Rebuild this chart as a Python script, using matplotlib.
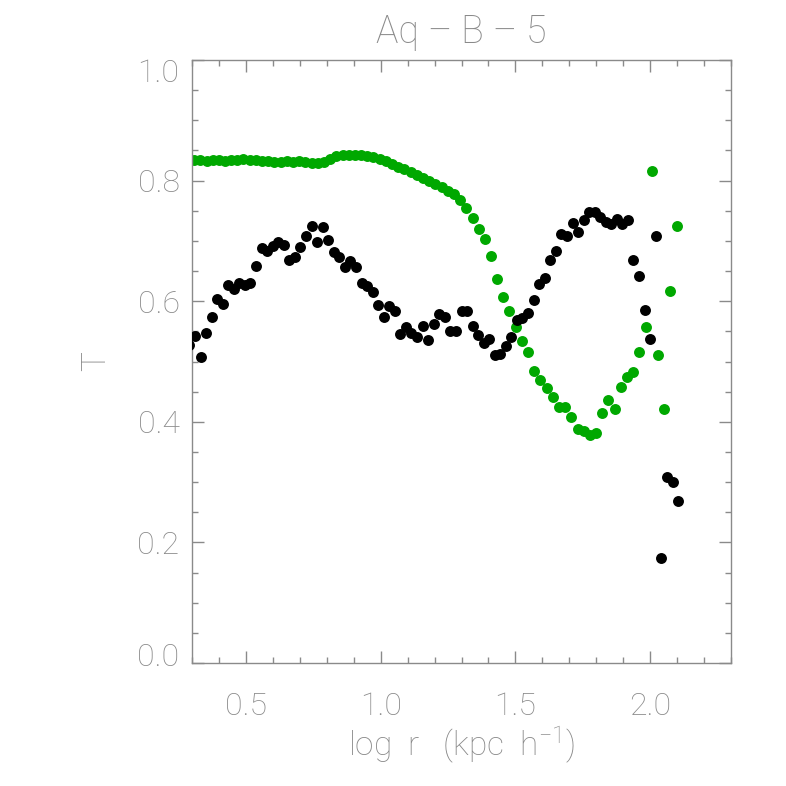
import numpy as np
import matplotlib
matplotlib.use("Agg")
import matplotlib.pyplot as plt
from matplotlib.ticker import MultipleLocator
from matplotlib.transforms import ScaledTranslation

# black series: log r, T
x_black = [0.289, 0.311, 0.332, 0.352, 0.373, 0.393, 0.414, 0.435, 0.455, 0.476,
           0.496, 0.517, 0.538, 0.558, 0.579, 0.599, 0.620, 0.641, 0.661, 0.682,
           0.702, 0.723, 0.744, 0.764, 0.785, 0.805, 0.826, 0.847, 0.867, 0.888,
           0.908, 0.929, 0.950, 0.970, 0.991, 1.011, 1.032, 1.053, 1.073, 1.094,
           1.114, 1.135, 1.156, 1.176, 1.197, 1.217, 1.238, 1.259, 1.279, 1.300,
           1.320, 1.341, 1.362, 1.382, 1.403, 1.423, 1.444, 1.465, 1.485, 1.506,
           1.526, 1.547, 1.568, 1.588, 1.609, 1.629, 1.650, 1.671, 1.691, 1.712,
           1.732, 1.753, 1.774, 1.794, 1.815, 1.835, 1.856, 1.877, 1.897, 1.918,
           1.938, 1.959, 1.980, 2.000, 2.021, 2.041, 2.062, 2.083, 2.103]
t_black = [0.527, 0.543, 0.507, 0.547, 0.573, 0.604, 0.595, 0.627, 0.621, 0.631,
           0.627, 0.631, 0.659, 0.689, 0.684, 0.692, 0.698, 0.694, 0.668, 0.673,
           0.690, 0.708, 0.724, 0.699, 0.723, 0.701, 0.682, 0.673, 0.657, 0.666,
           0.657, 0.631, 0.626, 0.615, 0.594, 0.573, 0.592, 0.583, 0.546, 0.557,
           0.547, 0.541, 0.559, 0.536, 0.562, 0.578, 0.573, 0.551, 0.551, 0.584,
           0.583, 0.559, 0.544, 0.531, 0.537, 0.511, 0.512, 0.526, 0.540, 0.569,
           0.572, 0.581, 0.602, 0.628, 0.638, 0.668, 0.683, 0.711, 0.708, 0.730,
           0.715, 0.735, 0.748, 0.748, 0.740, 0.731, 0.728, 0.736, 0.728, 0.735,
           0.668, 0.642, 0.585, 0.537, 0.708, 0.174, 0.308, 0.300, 0.269]

# green series: log r, T
x_green = [0.308, 0.331, 0.354, 0.377, 0.400, 0.423, 0.446, 0.468, 0.491, 0.514,
           0.537, 0.560, 0.583, 0.606, 0.629, 0.652, 0.675, 0.698, 0.721, 0.744,
           0.767, 0.790, 0.813, 0.836, 0.859, 0.882, 0.904, 0.927, 0.950, 0.973,
           0.996, 1.019, 1.042, 1.065, 1.088, 1.111, 1.134, 1.157, 1.180, 1.203,
           1.226, 1.249, 1.272, 1.295, 1.318, 1.341, 1.364, 1.387, 1.409, 1.432,
           1.455, 1.478, 1.501, 1.524, 1.547, 1.570, 1.593, 1.616, 1.639, 1.662,
           1.685, 1.708, 1.731, 1.754, 1.777, 1.800, 1.823, 1.845, 1.868, 1.891,
           1.914, 1.937, 1.960, 1.983, 2.006, 2.029, 2.052, 2.075, 2.098]
t_green = [0.834, 0.834, 0.833, 0.834, 0.834, 0.832, 0.834, 0.834, 0.835, 0.834,
           0.834, 0.833, 0.832, 0.831, 0.831, 0.832, 0.831, 0.832, 0.831, 0.829,
           0.830, 0.831, 0.836, 0.840, 0.842, 0.843, 0.843, 0.842, 0.841, 0.839,
           0.836, 0.832, 0.828, 0.823, 0.819, 0.814, 0.809, 0.804, 0.799, 0.794,
           0.789, 0.783, 0.777, 0.767, 0.754, 0.738, 0.720, 0.703, 0.675, 0.636,
           0.607, 0.583, 0.557, 0.534, 0.515, 0.485, 0.469, 0.456, 0.441, 0.425,
           0.425, 0.408, 0.388, 0.384, 0.378, 0.381, 0.414, 0.436, 0.421, 0.458,
           0.475, 0.483, 0.515, 0.557, 0.816, 0.510, 0.422, 0.617, 0.725]

axcol = '#8a8a8a'
plt.rcParams['font.family'] = ['Roboto', 'DejaVu Sans']
plt.rcParams['font.weight'] = 'light'
plt.rcParams['mathtext.default'] = 'regular'

fig = plt.figure(figsize=(7.86, 7.86), dpi=100)
ax = fig.add_axes([192/786, 1-663/786, (731-192)/786, (663-60)/786])

ax.scatter(x_black, t_black, s=62, c='black', linewidths=0, zorder=3)
ax.scatter(x_green, t_green, s=62, c='#00a800', linewidths=0, zorder=2)

ax.set_xlim(0.3, 2.3)
ax.set_ylim(0.0, 1.0)
ax.xaxis.set_major_locator(MultipleLocator(0.5))
ax.xaxis.set_minor_locator(MultipleLocator(0.1))
ax.set_yticks([0.0, 0.2, 0.4, 0.6, 0.8, 1.0])
ax.yaxis.set_minor_locator(MultipleLocator(0.05))
ax.xaxis.set_major_formatter(lambda v, p: '%.1f' % v)
ax.yaxis.set_major_formatter(lambda v, p: '%.1f' % v)

for s in ax.spines.values():
    s.set_color(axcol)
    s.set_linewidth(1.0)
ax.tick_params(which='both', direction='in', top=True, right=True, color=axcol,
               labelcolor=axcol, labelsize=23, width=1.0)
ax.tick_params(which='major', length=8.5)
ax.tick_params(which='minor', length=4.3)
ax.tick_params(axis='x', which='major', pad=21)
ax.tick_params(axis='y', which='major', pad=9)

# IDL-like: end labels pulled inside the axis range
yt = ax.yaxis.get_major_ticks()
yt[0].label1.set_transform(yt[0].label1.get_transform() + ScaledTranslation(0, 0.08, fig.dpi_scale_trans))
yt[-1].label1.set_transform(yt[-1].label1.get_transform() + ScaledTranslation(0, -0.10, fig.dpi_scale_trans))

ax.set_xlabel('log  r   (kpc  h$^{-1}$)', fontsize=24, fontweight='light', color=axcol, labelpad=2)
ax.set_ylabel('T', fontsize=24, fontweight='light', color=axcol, labelpad=18)
ax.set_title('Aq \u2013 B \u2013 5', fontsize=27, fontweight='light', color=axcol, pad=12)

fig.savefig('out.png', dpi=100)
